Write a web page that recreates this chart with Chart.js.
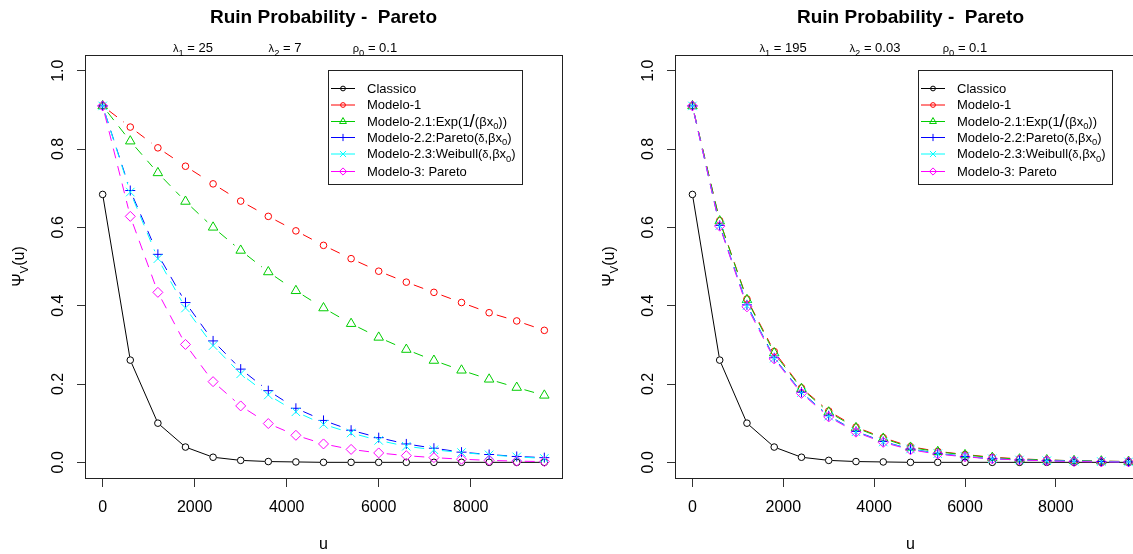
<!DOCTYPE html>
<html>
<head>
<meta charset="utf-8">
<title>Ruin Probability - Pareto</title>
<script src="https://cdn.jsdelivr.net/npm/chart.js@4.4.1/dist/chart.umd.min.js"></script>
<style>
  html, body { margin: 0; padding: 0; background: #fff; overflow: hidden; }
  .panel { position: absolute; top: 0; width: 590px; height: 554px; }
  #leftPanel { left: 0; }
  #rightPanel { left: 590px; }
</style>
</head>
<body>
<div class="panel" id="leftPanel"><canvas id="leftChart" width="590" height="554"></canvas></div>
<div class="panel" id="rightPanel"><canvas id="rightChart" width="590" height="554"></canvas></div>
<script>
// u grid shared by both panels
const uValues = [0, 600, 1200, 1800, 2400, 3000, 3600, 4200, 4800, 5400, 6000, 6600, 7200, 7800, 8400, 9000, 9600];
const xTicks = [0, 2000, 4000, 6000, 8000];
const yTicks = [0, 0.2, 0.4, 0.6, 0.8, 1.0];
const yTickLabels = ["0.0", "0.2", "0.4", "0.6", "0.8", "1.0"];

// left panel: lambda1 = 25, lambda2 = 7
const classicoLeft = [0.684, 0.261, 0.100, 0.039, 0.013, 0.005, 0.002, 0.001, 0, 0, 0, 0, 0, 0, 0, 0, 0];
const modelo1Left = [0.910, 0.856, 0.803, 0.756, 0.711, 0.667, 0.628, 0.591, 0.554, 0.520, 0.488, 0.460, 0.434, 0.408, 0.382, 0.361, 0.337];
const modelo21Left = [0.910, 0.820, 0.739, 0.666, 0.600, 0.541, 0.486, 0.438, 0.394, 0.354, 0.319, 0.288, 0.260, 0.235, 0.212, 0.191, 0.171];
const modelo22Left = [0.910, 0.694, 0.531, 0.408, 0.310, 0.238, 0.183, 0.138, 0.107, 0.082, 0.063, 0.047, 0.036, 0.026, 0.020, 0.015, 0.012];
const modelo23Left = [0.910, 0.690, 0.520, 0.394, 0.298, 0.226, 0.172, 0.129, 0.097, 0.075, 0.056, 0.041, 0.032, 0.025, 0.019, 0.014, 0.010];
const modelo3Left = [0.910, 0.628, 0.434, 0.301, 0.206, 0.144, 0.099, 0.069, 0.047, 0.033, 0.024, 0.017, 0.012, 0.008, 0.005, 0.003, 0.002];

// right panel: lambda1 = 195, lambda2 = 0.03
const classicoRight = [0.684, 0.261, 0.100, 0.039, 0.013, 0.005, 0.002, 0.001, 0, 0, 0, 0, 0, 0, 0, 0, 0];
const modelo1Right = [0.910, 0.617, 0.417, 0.283, 0.190, 0.131, 0.090, 0.063, 0.040, 0.028, 0.020, 0.013, 0.009, 0.006, 0.004, 0.003, 0.002];
const modelo21Right = [0.910, 0.616, 0.415, 0.279, 0.188, 0.128, 0.088, 0.061, 0.038, 0.027, 0.019, 0.012, 0.008, 0.006, 0.004, 0.003, 0.002];
const modelo22Right = [0.910, 0.605, 0.402, 0.267, 0.179, 0.119, 0.079, 0.053, 0.034, 0.023, 0.015, 0.009, 0.006, 0.004, 0.003, 0.002, 0.001];
const modelo23Right = [0.910, 0.604, 0.400, 0.266, 0.178, 0.118, 0.078, 0.052, 0.034, 0.022, 0.015, 0.009, 0.006, 0.004, 0.003, 0.002, 0.001];
const modelo3Right = [0.910, 0.603, 0.397, 0.264, 0.176, 0.116, 0.077, 0.051, 0.032, 0.021, 0.014, 0.009, 0.006, 0.004, 0.002, 0.001, 0.001];

const seriesNames = ["Classico", "Modelo-1", "Modelo-2.1", "Modelo-2.2", "Modelo-2.3", "Modelo-3"];
// legend labels as [text, kind] parts (kind: "" normal, "sub" subscript, "sym" small symbol, "big" tall slash)
const legendLabels = [
    [["Classico", ""]],
    [["Modelo-1", ""]],
    [["Modelo-2.1:Exp(1", ""], ["/", "big"], ["(\u03b2x", ""], ["0", "sub"], ["))", ""]],
    [["Modelo-2.2:Pareto(", ""], ["\u03b4", "sym"], [",\u03b2x", ""], ["0", "sub"], [")", ""]],
    [["Modelo-2.3:Weibull(", ""], ["\u03b4", "sym"], [",\u03b2x", ""], ["0", "sub"], [")", ""]],
    [["Modelo-3: Pareto", ""]]
];
const titleText = "Ruin Probability -  Pareto";
const xLabel = "u";
const yLabelParts = [["\u03a8", ""], ["V", "sub"], ["(u)", ""]];
const subtitleLeft = [
    [["\u03bb", "sym"], ["1", "sub"], [" = 25", ""]],
    [["\u03bb", "sym"], ["2", "sub"], [" = 7", ""]],
    [["\u03c1", "sym"], ["0", "sub"], [" = 0.1", ""]]
];
const subtitleRight = [
    [["\u03bb", "sym"], ["1", "sub"], [" = 195", ""]],
    [["\u03bb", "sym"], ["2", "sub"], [" = 0.03", ""]],
    [["\u03c1", "sym"], ["0", "sub"], [" = 0.1", ""]]
];

const FONT = "'Liberation Sans', Arial, sans-serif";
const colors = ["#000000", "#FF0000", "#00CD00", "#0000FF", "#00FFFF", "#FF00FF"];
const markers = ["circle", "circle", "triangle", "cross", "crossRot", "rectRot"];
const markerSize = [3.3, 3.3, 5.5, 5, 6, 5];
const dashed = [false, true, true, true, true, true];

// R type="b": line pieces stop short of each point, dash pattern restarts per piece
function segmentDash(gap, isDashed) {
    return function (ctx) {
        const dx = ctx.p1.x - ctx.p0.x, dy = ctx.p1.y - ctx.p0.y;
        const len = Math.sqrt(dx * dx + dy * dy);
        const room = len - 2 * gap;
        const tail = 5000 + ctx.p0DataIndex;
        if (room <= 0.5) return [0, tail];
        if (!isDashed) return [0, gap, room, tail];
        const arr = [0, gap];
        let pos = 0;
        while (pos < room) {
            const on = Math.min(10, room - pos);
            arr.push(on, 8);
            pos += 18;
        }
        arr[arr.length - 1] = tail;
        return arr;
    };
}

function partFont(kind, size) {
    if (kind === "sub") return (size * 0.72) + "px " + FONT;
    if (kind === "sym") return (size * 0.85) + "px " + FONT;
    if (kind === "big") return (size * 1.45) + "px " + FONT;
    return size + "px " + FONT;
}

function richWidth(ctx, parts, size) {
    let w = 0;
    parts.forEach(p => { ctx.font = partFont(p[1], size); w += ctx.measureText(p[0]).width; });
    return w;
}

function drawRich(ctx, parts, x, y, size) {
    ctx.textAlign = "left";
    ctx.textBaseline = "alphabetic";
    parts.forEach(p => {
        ctx.font = partFont(p[1], size);
        let dy = 0;
        if (p[1] === "sub") dy = size * 0.28;
        if (p[1] === "big") dy = size * 0.12;
        ctx.fillText(p[0], x, y + dy);
        x += ctx.measureText(p[0]).width;
    });
}

function drawMarker(ctx, style, x, y, r, color) {
    ctx.save();
    ctx.strokeStyle = color;
    ctx.lineWidth = 1;
    ctx.beginPath();
    if (style === "circle") {
        ctx.arc(x, y, r, 0, Math.PI * 2);
    } else if (style === "triangle") {
        ctx.moveTo(x, y - r);
        ctx.lineTo(x + r * 0.866, y + r * 0.5);
        ctx.lineTo(x - r * 0.866, y + r * 0.5);
        ctx.closePath();
    } else if (style === "cross") {
        ctx.moveTo(x - r, y); ctx.lineTo(x + r, y);
        ctx.moveTo(x, y - r); ctx.lineTo(x, y + r);
    } else if (style === "crossRot") {
        const d = r * 0.707;
        ctx.moveTo(x - d, y - d); ctx.lineTo(x + d, y + d);
        ctx.moveTo(x - d, y + d); ctx.lineTo(x + d, y - d);
    } else if (style === "rectRot") {
        ctx.moveTo(x, y - r); ctx.lineTo(x + r, y); ctx.lineTo(x, y + r); ctx.lineTo(x - r, y);
        ctx.closePath();
    }
    ctx.stroke();
    ctx.restore();
}

function makePanel(canvasId, seriesValues, subtitleParts, rightPad) {
    const datasets = seriesValues.map((vals, i) => ({
        label: seriesNames[i],
        data: uValues.map((u, k) => ({ x: u, y: vals[k] })),
        borderColor: colors[i],
        borderWidth: 1,
        backgroundColor: "transparent",
        pointStyle: markers[i],
        pointRadius: markerSize[i],
        pointBorderColor: colors[i],
        pointBackgroundColor: "transparent",
        pointBorderWidth: 1,
        tension: 0,
        order: 6 - i,
        segment: { borderDash: segmentDash(i === 0 ? 3.5 : 8, dashed[i]) }
    }));

    const decor = {
        id: "decor",
        afterDraw(chart) {
            const ctx = chart.ctx;
            const area = chart.chartArea;
            const yScale = chart.scales.y;
            ctx.save();
            ctx.fillStyle = "#000";
            // plot box
            ctx.strokeStyle = "#222";
            ctx.lineWidth = 1;
            ctx.strokeRect(Math.round(area.left) + 0.5, Math.round(area.top) + 0.5,
                Math.round(area.right - area.left), Math.round(area.bottom - area.top));
            // title
            const cx = (area.left + area.right) / 2;
            ctx.font = "bold 19px " + FONT;
            ctx.textAlign = "center";
            ctx.textBaseline = "alphabetic";
            ctx.fillText(titleText, cx, 23);
            // parameters line
            const subX = [193, 285, 375];
            subtitleParts.forEach((parts, i) => {
                const w = richWidth(ctx, parts, 13);
                drawRich(ctx, parts, subX[i] - w / 2, 52, 13);
            });
            // x axis title
            ctx.font = "16px " + FONT;
            ctx.textAlign = "center";
            ctx.fillText(xLabel, cx, 549);
            // rotated y tick labels
            yTicks.forEach((v, i) => {
                const py = yScale.getPixelForValue(v);
                ctx.save();
                ctx.translate(63, py);
                ctx.rotate(-Math.PI / 2);
                ctx.font = "16px " + FONT;
                ctx.textAlign = "center";
                ctx.fillText(yTickLabels[i], 0, 0);
                ctx.restore();
            });
            // y axis title
            ctx.save();
            ctx.translate(24, (area.top + area.bottom) / 2);
            ctx.rotate(-Math.PI / 2);
            const yw = richWidth(ctx, yLabelParts, 16);
            drawRich(ctx, yLabelParts, -yw / 2, 0, 16);
            ctx.restore();
            // legend
            const lx = 328, ly = 70, lw = 194, lh = 114;
            ctx.fillStyle = "#fff";
            ctx.fillRect(lx, ly, lw, lh);
            ctx.strokeStyle = "#222";
            ctx.strokeRect(lx + 0.5, ly + 0.5, lw, lh);
            const rows = [88, 104.5, 121, 137, 153.5, 171];
            rows.forEach((ry, i) => {
                ctx.strokeStyle = colors[i];
                ctx.lineWidth = 1;
                ctx.beginPath();
                ctx.moveTo(lx + 3, ry + 0.5);
                ctx.lineTo(lx + 27, ry + 0.5);
                ctx.stroke();
                drawMarker(ctx, markers[i], lx + 15, ry + 0.5, markerSize[i] * 0.72, colors[i]);
                ctx.fillStyle = "#000";
                drawRich(ctx, legendLabels[i], lx + 39, ry + 4.5, 13);
            });
            ctx.restore();
        }
    };

    return new Chart(document.getElementById(canvasId), {
        type: "line",
        data: { datasets: datasets },
        options: {
            responsive: false,
            animation: false,
            events: [],
            layout: { padding: { left: 0, top: 55, right: rightPad, bottom: 0 } },
            plugins: { legend: { display: false }, tooltip: { enabled: false }, title: { display: false } },
            scales: {
                x: {
                    type: "linear",
                    min: -384,
                    max: 9984,
                    afterBuildTicks: s => { s.ticks = xTicks.map(v => ({ value: v })); },
                    afterFit: s => { s.height = 76; },
                    ticks: {
                        color: "#000",
                        font: { size: 16, family: FONT },
                        padding: 11,
                        maxRotation: 0,
                        autoSkip: false,
                        callback: v => String(v)
                    },
                    grid: { drawOnChartArea: false, drawTicks: true, tickLength: 9, color: "#333" },
                    border: { display: false }
                },
                y: {
                    type: "linear",
                    min: -0.04,
                    max: 1.04,
                    afterBuildTicks: s => { s.ticks = yTicks.map(v => ({ value: v })); },
                    afterFit: s => { s.width = 85; },
                    ticks: { display: false },
                    grid: { drawOnChartArea: false, drawTicks: true, tickLength: 8, color: "#333" },
                    border: { display: false }
                }
            }
        },
        plugins: [decor]
    });
}

makePanel("leftChart",
    [classicoLeft, modelo1Left, modelo21Left, modelo22Left, modelo23Left, modelo3Left],
    subtitleLeft, 28);
makePanel("rightChart",
    [classicoRight, modelo1Right, modelo21Right, modelo22Right, modelo23Right, modelo3Right],
    subtitleRight, 34);
</script>
</body>
</html>
